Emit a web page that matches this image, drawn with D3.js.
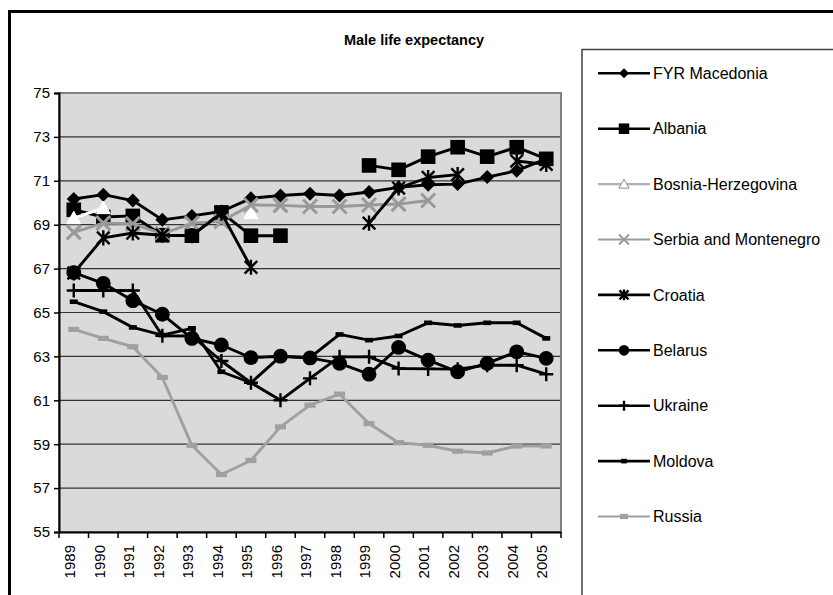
<!DOCTYPE html>
<html><head><meta charset="utf-8">
<script src="https://cdn.jsdelivr.net/npm/d3@7"></script>
<style>body{margin:0;background:#fff}svg{display:block;font-family:Arial,"Liberation Sans",sans-serif}</style>
</head><body><svg id="c" width="833" height="595"></svg>
<script>
const years = ["1989","1990","1991","1992","1993","1994","1995","1996","1997","1998","1999","2000","2001","2002","2003","2004","2005"];
const yTicks = [55,57,59,61,63,65,67,69,71,73,75];
const seriesNames = ["FYR Macedonia","Albania","Bosnia-Herzegovina","Serbia and Montenegro","Croatia","Belarus","Ukraine","Moldova","Russia"];
const macedonia = [70.17,70.37,70.1,69.22,69.4,69.6,70.2,70.33,70.41,70.33,70.49,70.7,70.82,70.85,71.17,71.46,72.0];
const albania = [69.68,69.35,69.4,68.52,68.5,69.56,68.5,68.5,null,null,71.7,71.5,72.1,72.53,72.1,72.53,72.0];
const bosnia = [69.3,69.76,null,null,null,null,69.53,null,null,null,null,null,null,null,null,null,null];
const serbia = [68.65,69.07,69.04,68.58,69.07,69.15,69.9,69.88,69.83,69.83,69.9,69.94,70.1,null,null,null,null];
const croatia = [66.8,68.4,68.62,68.52,68.5,69.53,67.06,null,null,null,69.07,70.67,71.15,71.28,null,71.9,71.75];
const belarus = [66.82,66.33,65.54,64.92,63.82,63.52,62.94,63.01,62.93,62.68,62.19,63.41,62.83,62.3,62.68,63.21,62.91];
const ukraine = [66.0,66.0,66.0,63.94,63.93,62.79,61.8,61.0,62.0,62.98,62.98,62.45,62.43,62.42,62.6,62.6,62.19];
const moldova = [65.49,65.04,64.32,63.97,64.28,62.3,61.8,63.0,62.95,64.0,63.74,63.93,64.53,64.41,64.53,64.53,63.82];
const russia = [64.23,63.82,63.44,62.04,58.95,57.62,58.26,59.79,60.78,61.28,59.94,59.07,58.95,58.68,58.6,58.92,58.92];

const seriesValues = [macedonia,albania,bosnia,serbia,croatia,belarus,ukraine,moldova,russia];
const styles = [
  {color:"#000", line:"#000", marker:"diamond"},
  {color:"#000", line:"#000", marker:"square"},
  {color:"#fff", line:"#fff", legendLine:"#b0b0b0", marker:"triangle"},
  {color:"#999", line:"#999", marker:"x"},
  {color:"#000", line:"#000", marker:"asterisk"},
  {color:"#000", line:"#000", marker:"circle"},
  {color:"#000", line:"#000", marker:"plus"},
  {color:"#000", line:"#000", marker:"dash"},
  {color:"#a0a0a0", line:"#a0a0a0", marker:"dashWide"}
];

const svg = d3.select("#c");
const L=59, R=561, T=93, B=532;
const x = d3.scaleBand().domain(years).range([L,R]).padding(0);
const y = d3.scaleLinear().domain([55,75]).range([B,T]);

// outer frame
svg.append("rect").attr("x",9.5).attr("y",11.5).attr("width",840).attr("height",600)
  .attr("fill","#fff").attr("stroke","#000").attr("stroke-width",3);

// title
svg.append("text").attr("x",414).attr("y",45).attr("text-anchor","middle")
  .attr("font-weight","bold").attr("font-size","14.5px").text("Male life expectancy");

// plot bg
svg.append("rect").attr("x",L).attr("y",T).attr("width",R-L).attr("height",B-T).attr("fill","#dadada");
// gridlines
svg.append("g").selectAll("line").data(yTicks.filter(d=>d>55&&d<75)).join("line")
  .attr("x1",L).attr("x2",R).attr("y1",d=>y(d)).attr("y2",d=>y(d))
  .attr("stroke","#333").attr("stroke-width",1.2);
// plot border
svg.append("rect").attr("x",L).attr("y",T).attr("width",R-L).attr("height",B-T)
  .attr("fill","none").attr("stroke","#808080").attr("stroke-width",2);

// y axis
const yAxis = d3.axisLeft(y).tickValues(yTicks).tickSize(5).tickPadding(4).tickFormat(d3.format("d"));
const gy = svg.append("g").attr("transform",`translate(${L},0)`).call(yAxis);
gy.select(".domain").attr("stroke","#000").attr("stroke-width",2);
gy.selectAll(".tick line").attr("stroke","#000").attr("stroke-width",1.5);
gy.selectAll("text").attr("font-size","15px").attr("fill","#000").attr("font-family","Arial,'Liberation Sans',sans-serif");

// x axis
const xAxis = d3.axisBottom(x).tickSize(0).tickPadding(0);
const gx = svg.append("g").attr("transform",`translate(0,${B})`).call(xAxis);
gx.select(".domain").attr("stroke","#000").attr("stroke-width",2);
gx.selectAll("text").attr("font-size","15px").attr("fill","#000").attr("font-family","Arial,'Liberation Sans',sans-serif")
  .attr("transform","rotate(-90)").attr("text-anchor","end").attr("x",-13).attr("y",-4).attr("dy","0.35em");
// x ticks at band boundaries
const bounds = years.map(d=>x(d)).concat([x(years[years.length-1])+x.bandwidth()]);
svg.append("g").selectAll("line").data(bounds).join("line")
  .attr("x1",d=>d).attr("x2",d=>d).attr("y1",B).attr("y2",B+6).attr("stroke","#000").attr("stroke-width",1.5);

function drawMarker(g, type, cx, cy, s, col, legend){
  const k = s;
  if(type==="diamond"){
    g.append("path").attr("d",`M${cx},${cy-7*k}L${cx+7*k},${cy}L${cx},${cy+7*k}L${cx-7*k},${cy}Z`).attr("fill","#000");
  } else if(type==="square"){
    const h=7.3*k; g.append("rect").attr("x",cx-h).attr("y",cy-h).attr("width",2*h).attr("height",2*h).attr("fill","#000");
  } else if(type==="triangle"){
    const w=7*k, h=12.5*k;
    g.append("path").attr("d",`M${cx},${cy-h*0.55}L${cx+w},${cy+h*0.45}L${cx-w},${cy+h*0.45}Z`)
      .attr("fill","#fff").attr("stroke",legend?"#909090":"#fff").attr("stroke-width",1);
  } else if(type==="x"){
    const h=7*k;
    g.append("path").attr("d",`M${cx-h},${cy-h}L${cx+h},${cy+h}M${cx-h},${cy+h}L${cx+h},${cy-h}`)
      .attr("stroke",col).attr("stroke-width",legend?2:3).attr("fill","none");
  } else if(type==="asterisk"){
    const h=6.3*k;
    g.append("path").attr("d",`M${cx-h},${cy-h}L${cx+h},${cy+h}M${cx-h},${cy+h}L${cx+h},${cy-h}M${cx},${cy-h*1.2}L${cx},${cy+h*1.2}`)
      .attr("stroke","#000").attr("stroke-width",2.4).attr("fill","none");
  } else if(type==="circle"){
    g.append("circle").attr("cx",cx).attr("cy",cy).attr("r",7.4*k).attr("fill","#000");
  } else if(type==="plus"){
    const h=7*k;
    g.append("path").attr("d",`M${cx-h},${cy}L${cx+h},${cy}M${cx},${cy-h}L${cx},${cy+h}`)
      .attr("stroke","#000").attr("stroke-width",2.4).attr("fill","none");
  } else if(type==="dash"){
    g.append("rect").attr("x",cx-4*k).attr("y",cy-2.3).attr("width",8*k).attr("height",4.6).attr("fill","#000");
  } else if(type==="dashWide"){
    g.append("rect").attr("x",cx-5.5*k).attr("y",cy-2.6).attr("width",11*k).attr("height",5.2).attr("fill",col);
  }
}

const line = d3.line().defined(d=>d.v!=null).x(d=>x(d.year)+x.bandwidth()/2).y(d=>y(d.v));
seriesValues.forEach((vals,i)=>{
  const st = styles[i];
  const pts = vals.map((v,j)=>({year:years[j],v}));
  const g = svg.append("g");
  g.append("path").datum(pts).attr("d",line).attr("fill","none").attr("stroke",st.line)
    .attr("stroke-width",2.9).attr("stroke-linejoin","round");
  pts.filter(d=>d.v!=null).forEach(d=>drawMarker(g, st.marker, x(d.year)+x.bandwidth()/2, y(d.v), 1, st.color, false));
});

// legend
svg.append("rect").attr("x",582).attr("y",49.5).attr("width",300).attr("height",600)
  .attr("fill","#fff").attr("stroke","#404040").attr("stroke-width",1.5);
const legY0 = 73.3, legStep = 55.4;
seriesNames.forEach((name,i)=>{
  const st = styles[i];
  const cy = legY0 + i*legStep;
  const g = svg.append("g");
  g.append("line").attr("x1",598).attr("x2",650).attr("y1",cy).attr("y2",cy)
    .attr("stroke",st.legendLine||st.line).attr("stroke-width",(st.legendLine||st.line)==="#000"?2.6:2.2);
  drawMarker(g, st.marker, 624, cy, 0.72, st.color==="#fff"?"#fff":st.color, true);
  g.append("text").attr("x",653).attr("y",cy).attr("dy","0.35em").attr("font-size","16px").text(name);
});
</script></body></html>
